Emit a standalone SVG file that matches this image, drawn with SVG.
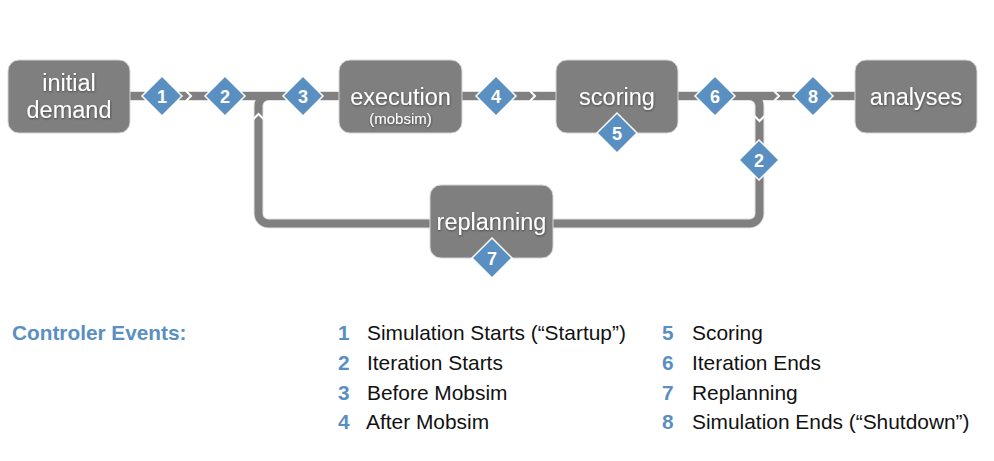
<svg xmlns="http://www.w3.org/2000/svg" xmlns:xlink="http://www.w3.org/1999/xlink" width="994" height="461" viewBox="0 0 994 461">
  <defs>
    <style>
      .node { fill: #7f7f7f; stroke: #d6d6d6; stroke-width: 1; }
      .ntxt { font-family: "Liberation Sans", Arial, sans-serif; font-size: 23.5px; fill: #ffffff; text-anchor: middle; filter: url(#tshadow); }
      .nsub { font-family: "Liberation Sans", Arial, sans-serif; font-size: 15px; fill: #ffffff; text-anchor: middle; filter: url(#tshadow); }
      .halo { fill: none; stroke: #e4e4e4; stroke-width: 10; }
      .line { fill: none; stroke: #808080; stroke-width: 8; }
      .chev { fill: none; stroke: #ffffff; stroke-width: 2; }
      .dia { fill: #5a8fc2; stroke: #ffffff; stroke-width: 1.5; }
      .dtxt { font-family: "Liberation Sans", Arial, sans-serif; font-size: 18px; font-weight: bold; fill: #ffffff; text-anchor: middle; }
      .lhead { font-family: "Liberation Sans", Arial, sans-serif; font-size: 20.8px; font-weight: bold; fill: #5a8fc2; }
      .lnum { font-family: "Liberation Sans", Arial, sans-serif; font-size: 20.8px; font-weight: bold; fill: #5a8fc2; }
      .ltxt { font-family: "Liberation Sans", Arial, sans-serif; font-size: 20.9px; fill: #111111; }
    </style>
    <filter id="tshadow" x="-10%" y="-20%" width="120%" height="150%">
      <feDropShadow dx="0.5" dy="1" stdDeviation="0.8" flood-color="#000000" flood-opacity="0.45"/>
    </filter>
    <polygon id="diamond" class="dia" points="0,-20 20,0 0,20 -20,0"/>
  </defs>

  <rect width="994" height="461" fill="#ffffff"/>

  <g id="connectors">
    <path class="halo" d="M130 96 H339"/>
    <path class="halo" d="M462 96 H556"/>
    <path class="halo" d="M678 96 H855"/>
    <path class="halo" d="M749.5 96 A10 10 0 0 1 759.5 106 V213.5 A10 10 0 0 1 749.5 223.5 H553"/>
    <path class="halo" d="M430 223.5 H268.5 A10 10 0 0 1 258.5 213.5 V106 A10 10 0 0 1 268.5 96"/>
    <path class="line" d="M130 96 H339"/>
    <path class="line" d="M462 96 H556"/>
    <path class="line" d="M678 96 H855"/>
    <path class="line" d="M749.5 96 A10 10 0 0 1 759.5 106 V213.5 A10 10 0 0 1 749.5 223.5 H553"/>
    <path class="line" d="M430 223.5 H268.5 A10 10 0 0 1 258.5 213.5 V106 A10 10 0 0 1 268.5 96"/>
    <polyline class="chev" points="186,91 191,96 186,101"/>
    <polyline class="chev" points="530,91 535,96 530,101"/>
    <polyline class="chev" points="774,91 779,96 774,101"/>
    <polyline class="chev" points="253.5,119 258.5,114 263.5,119"/>
    <polyline class="chev" points="754.5,116 759.5,121 764.5,116"/>
  </g>

  <g id="node-initial-demand">
    <rect class="node" x="8" y="60" width="122" height="73" rx="11"/>
    <text class="ntxt" x="69" y="91">initial</text>
    <text class="ntxt" x="69" y="118">demand</text>
  </g>
  <g id="node-execution">
    <rect class="node" x="339" y="60" width="123" height="73" rx="11"/>
    <text class="ntxt" x="400.5" y="105">execution</text>
    <text class="nsub" x="400.5" y="124">(mobsim)</text>
  </g>
  <g id="node-scoring">
    <rect class="node" x="556" y="60" width="122" height="73" rx="11"/>
    <text class="ntxt" x="617" y="105">scoring</text>
  </g>
  <g id="node-analyses">
    <rect class="node" x="855" y="60" width="122" height="73" rx="11"/>
    <text class="ntxt" x="916" y="105">analyses</text>
  </g>
  <g id="node-replanning">
    <rect class="node" x="430" y="185" width="123" height="73" rx="11"/>
    <text class="ntxt" x="491.5" y="230">replanning</text>
  </g>

  <g id="event-1"><use xlink:href="#diamond" x="162" y="96"/><text class="dtxt" x="162" y="102.5">1</text></g>
  <g id="event-2a"><use xlink:href="#diamond" x="225" y="96"/><text class="dtxt" x="225" y="102.5">2</text></g>
  <g id="event-3"><use xlink:href="#diamond" x="303" y="96"/><text class="dtxt" x="303" y="102.5">3</text></g>
  <g id="event-4"><use xlink:href="#diamond" x="496" y="96"/><text class="dtxt" x="496" y="102.5">4</text></g>
  <g id="event-5"><use xlink:href="#diamond" x="617" y="133"/><text class="dtxt" x="617" y="139.5">5</text></g>
  <g id="event-6"><use xlink:href="#diamond" x="715" y="96"/><text class="dtxt" x="715" y="102.5">6</text></g>
  <g id="event-2b"><use xlink:href="#diamond" x="759" y="160"/><text class="dtxt" x="759" y="166.5">2</text></g>
  <g id="event-7"><use xlink:href="#diamond" x="492" y="258"/><text class="dtxt" x="492" y="264.5">7</text></g>
  <g id="event-8"><use xlink:href="#diamond" x="813" y="96"/><text class="dtxt" x="813" y="102.5">8</text></g>

  <g id="legend">
    <text class="lhead" x="12" y="340">Controler Events:</text>
    <text class="lnum" x="338" y="340">1</text><text class="ltxt" x="367" y="340">Simulation Starts (“Startup”)</text>
    <text class="lnum" x="338" y="370">2</text><text class="ltxt" x="367" y="370">Iteration Starts</text>
    <text class="lnum" x="338" y="400">3</text><text class="ltxt" x="367" y="400">Before Mobsim</text>
    <text class="lnum" x="338" y="429">4</text><text class="ltxt" x="366" y="429">After Mobsim</text>
    <text class="lnum" x="662" y="340">5</text><text class="ltxt" x="692" y="340">Scoring</text>
    <text class="lnum" x="662" y="370">6</text><text class="ltxt" x="692" y="370">Iteration Ends</text>
    <text class="lnum" x="662" y="400">7</text><text class="ltxt" x="692" y="400">Replanning</text>
    <text class="lnum" x="662" y="429">8</text><text class="ltxt" x="692" y="429">Simulation Ends (“Shutdown”)</text>
  </g>
</svg>
